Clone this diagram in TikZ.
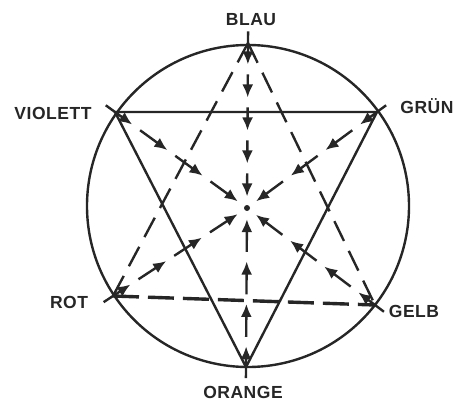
\documentclass[tikz,border=0pt]{standalone}
\usepackage{fontspec}
\setmainfont{Liberation Sans}
\usetikzlibrary{arrows.meta,calc}
\begin{document}
\begin{tikzpicture}[x=1pt,y=-1pt,
  ink/.style={draw=black!85,line width=2.4pt},
  solidline/.style={ink},
  dashline/.style={ink,dash pattern=on 22pt off 11pt},
  arr/.style={ink,line width=2.4pt,-{Latex[length=13pt,width=11pt]}},
  lbl/.style={font=\bfseries\fontsize{17.5}{17.5}\selectfont\addfontfeature{LetterSpace=3},text=black!85,inner sep=0pt}]
\useasboundingbox (0,0) rectangle (460,406);
% vertices
\coordinate (blau) at (248,43);
\coordinate (violett) at (115,112);
\coordinate (gruen) at (377,112);
\coordinate (rot) at (113,296);
\coordinate (gelb) at (375,305);
\coordinate (orange) at (246,367);
\coordinate (c) at (247,208);
% circle
\node[ink,circle,minimum size=322pt,inner sep=0pt] (kreis) at (248,206) {};
% solid triangle
\draw[solidline,line join=miter] (violett) -- (gruen) -- (orange) -- cycle;
% dashed triangle
\draw[dashline] (blau) -- (rot);
\draw[dashline] (blau) -- (gelb);
\draw[dashline,line width=3.4pt,dash pattern=on 26pt off 9pt] (rot) -- (gelb);
% centre dot
\fill[black!85] (c) circle (3pt);
% arrows towards centre
\foreach \v/\n in {blau/5,violett/4,gruen/4,rot/4,gelb/4,orange/4}{
  \foreach \i in {1,...,\n}{
    \pgfmathsetmacro\tend{0.13+(\i-1)*0.8/(\n-1)}
    \pgfmathsetmacro\tstart{ifthenelse(\i==1,-0.07,0.13+(\i-2)*0.8/(\n-1)+0.06)}
    \draw[arr] ($(\v)!\tstart!(c)$) -- ($(\v)!\tend!(c)$);
  }
}
% labels
\node[lbl] (lblau) at (251,20) {BLAU};
\node[lbl] (lviolett) at (53,113) {VIOLETT};
\node[lbl] (lgruen) at (427,106) {GRÜN};
\node[lbl] (lrot) at (69,302) {ROT};
\node[lbl] (lgelb) at (414,311) {GELB};
\node[lbl] (lorange) at (243,392) {ORANGE};
\end{tikzpicture}
\end{document}
